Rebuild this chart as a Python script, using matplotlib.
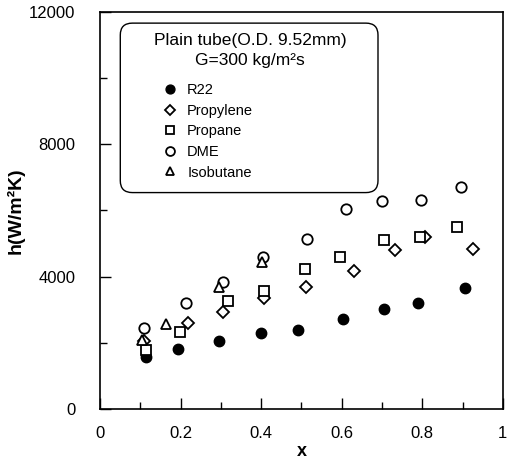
import matplotlib.pyplot as plt
from matplotlib.patches import FancyBboxPatch
from matplotlib.ticker import MultipleLocator

plt.rcParams['font.family'] = ['Liberation Sans', 'DejaVu Sans']

# vapor quality x and heat transfer coefficient h (W/m2K)
x_r22 = [0.113, 0.194, 0.294, 0.399, 0.491, 0.604, 0.704, 0.790, 0.907]
h_r22 = [1560, 1810, 2060, 2300, 2390, 2710, 3010, 3210, 3660]

x_propylene = [0.109, 0.217, 0.304, 0.407, 0.511, 0.631, 0.733, 0.807, 0.925]
h_propylene = [2060, 2590, 2940, 3360, 3690, 4180, 4800, 5190, 4820]

x_propane = [0.113, 0.199, 0.318, 0.407, 0.509, 0.595, 0.704, 0.794, 0.886]
h_propane = [1780, 2330, 3260, 3570, 4220, 4600, 5120, 5210, 5510]

x_dme = [0.108, 0.212, 0.304, 0.404, 0.513, 0.610, 0.699, 0.797, 0.896]
h_dme = [2450, 3210, 3840, 4600, 5140, 6030, 6280, 6330, 6700]

x_isobutane = [0.105, 0.164, 0.294, 0.401]
h_isobutane = [2080, 2560, 3690, 4430]

fig = plt.figure(figsize=(5.11, 4.62), dpi=100)
ax = fig.add_axes([0.196, 0.115, 0.788, 0.859])

ms = 7.5
ax.plot(x_r22, h_r22, 'o', color='black', ms=ms, label='R22')
ax.plot(x_propylene, h_propylene, 'D', mfc='white', mec='black', mew=1.3, ms=6.3, label='Propylene')
ax.plot(x_propane, h_propane, 's', mfc='white', mec='black', mew=1.3, ms=6.5, label='Propane')
ax.plot(x_dme, h_dme, 'o', mfc='white', mec='black', mew=1.3, ms=ms, label='DME')
ax.plot(x_isobutane, h_isobutane, '^', mfc='white', mec='black', mew=1.3, ms=7, label='Isobutane')

ax.set_xlim(0, 1)
ax.set_ylim(0, 12000)
ax.xaxis.set_major_locator(MultipleLocator(0.2))
ax.xaxis.set_minor_locator(MultipleLocator(0.1))
ax.yaxis.set_major_locator(MultipleLocator(4000))
ax.yaxis.set_minor_locator(MultipleLocator(2000))
ax.set_xticks([0, 0.2, 0.4, 0.6, 0.8, 1.0])
ax.set_xticklabels(['0', '0.2', '0.4', '0.6', '0.8', '1'])
ax.tick_params(which='both', direction='in', top=False, right=False, labelsize=12)
ax.tick_params(axis='x', pad=12)
ax.tick_params(axis='y', pad=18)
ax.tick_params(which='major', length=8, width=1)
ax.tick_params(which='minor', length=5, width=1)
for s in ax.spines.values():
    s.set_linewidth(1.2)

ax.set_xlabel('x', fontsize=13, fontweight='bold', labelpad=2)
ax.set_ylabel('h(W/m²K)', fontsize=14, fontweight='bold', labelpad=3)

# rounded legend box with two-line title
box = FancyBboxPatch((0.05, 0.545), 0.64, 0.427, boxstyle='round,pad=0,rounding_size=0.03',
                     transform=ax.transAxes, fc='white', ec='black', lw=1.0, zorder=3)
ax.add_patch(box)
ax.text(0.372, 0.929, 'Plain tube(O.D. 9.52mm)', transform=ax.transAxes,
        ha='center', va='center', fontsize=12.5, zorder=4)
ax.text(0.372, 0.877, 'G=300 kg/m²s', transform=ax.transAxes,
        ha='center', va='center', fontsize=12.5, zorder=4)
leg = ax.legend(loc='upper left', bbox_to_anchor=(0.14, 0.835), frameon=False, fontsize=10.5,
                handletextpad=0.7, labelspacing=0.45, handlelength=1.0, borderaxespad=0,
                markerscale=0.85)
leg.set_zorder(5)

fig.savefig('out.png', dpi=100)
